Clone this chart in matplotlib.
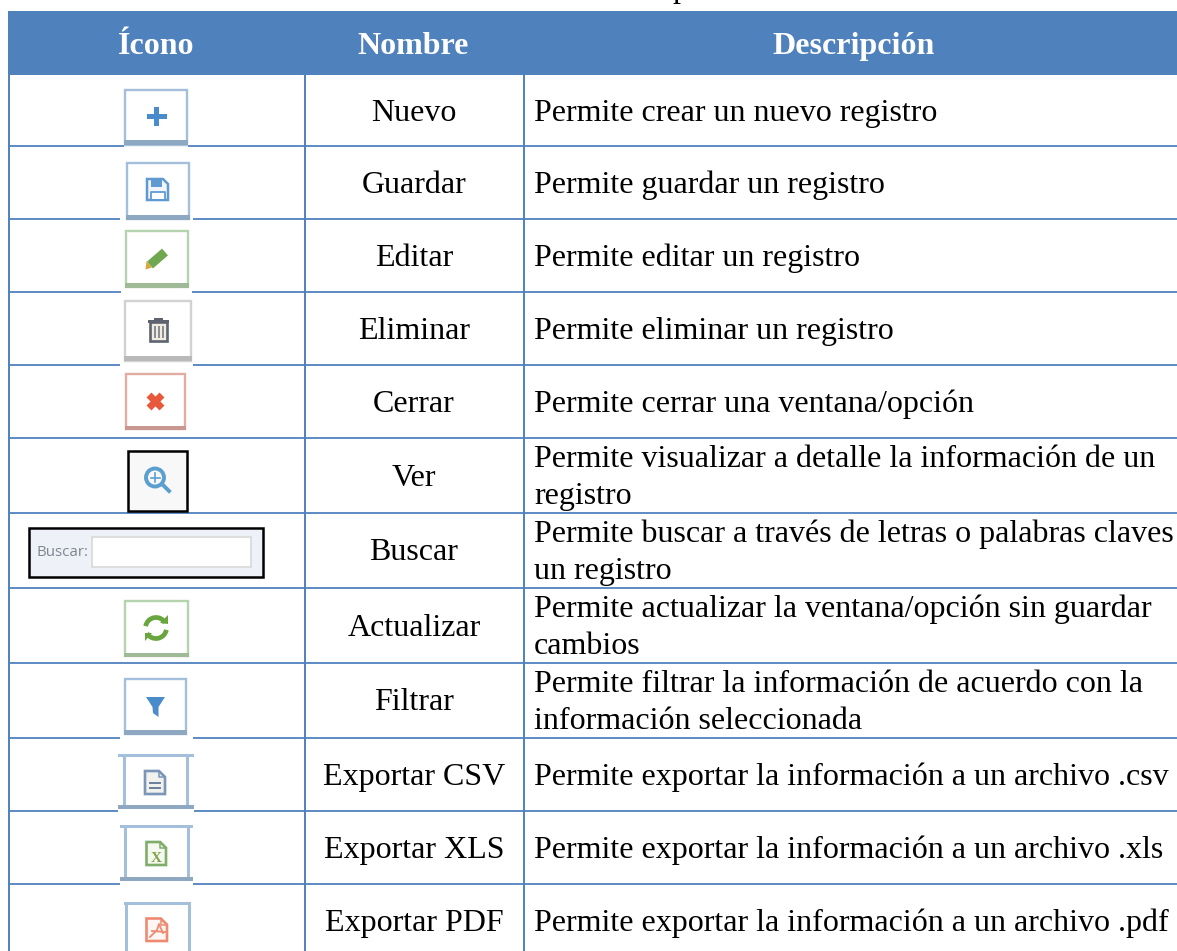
import numpy as np
import matplotlib
matplotlib.use("Agg")
import matplotlib.pyplot as plt
from matplotlib.colors import to_rgb
from matplotlib.patches import Rectangle, Circle, Polygon, Arc

headers = ['Ícono', 'Nombre', 'Descripción']
names = ['Nuevo', 'Guardar', 'Editar', 'Eliminar', 'Cerrar', 'Ver', 'Buscar',
         'Actualizar', 'Filtrar', 'Exportar CSV', 'Exportar XLS', 'Exportar PDF']
descriptions = [
    ['Permite crear un nuevo registro'],
    ['Permite guardar un registro'],
    ['Permite editar un registro'],
    ['Permite eliminar un registro'],
    ['Permite cerrar una ventana/opción'],
    ['Permite visualizar a detalle la información de un', 'registro'],
    ['Permite buscar a través de letras o palabras claves', 'un registro'],
    ['Permite actualizar la ventana/opción sin guardar', 'cambios'],
    ['Permite filtrar la información de acuerdo con la', 'información seleccionada'],
    ['Permite exportar la información a un archivo .csv'],
    ['Permite exportar la información a un archivo .xls'],
    ['Permite exportar la información a un archivo .pdf'],
]
row_lines = [75, 145.5, 219, 292, 365, 438, 512.5, 587.5, 662.5, 737.5, 810.5, 884, 951]

BLUE = '#4f81bd'
SERIF = 'Liberation Serif'
W, H = 1177, 951

fig = plt.figure(figsize=(W / 100, H / 100), dpi=100)
ax = fig.add_axes([0, 0, 1, 1])
ax.set_xlim(0, W)
ax.set_ylim(H, 0)
ax.axis('off')


def rect(x0, y0, x1, y1, color, z=3):
    ax.add_patch(Rectangle((x0, y0), x1 - x0, y1 - y0, fc=color, ec='none', zorder=z))


def darker(color, k=0.88):
    return tuple(c * k for c in to_rgb(color))


# grid and header
ax.text(672, -3, 'p', family=SERIF, fontsize=23, ha='left', va='baseline', clip_on=False)
rect(8, 11, W, 75, BLUE)
for y in row_lines[1:-1]:
    ax.plot([8, W], [y, y], color=BLUE, lw=1.3, zorder=2, solid_capstyle='butt')
for x in [9, 305, 524]:
    ax.plot([x, x], [75, H], color=BLUE, lw=1.4, zorder=2, solid_capstyle='butt')

for text, x in zip(headers, [156.5, 413.5, 853.5]):
    ax.text(x, 54.3, text, family=SERIF, fontweight='bold', fontsize=23, color='white',
            ha='center', va='baseline', zorder=5)

# text rows
for i in range(len(names)):
    mid = (row_lines[i] + row_lines[i + 1]) / 2
    if i == 11:
        mid = 920
    base = mid + 10.5
    ax.text(414, base, names[i], family=SERIF, fontsize=23, ha='center', va='baseline', zorder=5)
    lines = descriptions[i]
    first = base - (len(lines) - 1) * 18.5
    for k, line in enumerate(lines):
        ax.text(534, first + k * 37, line, family=SERIF, fontsize=23, ha='left', va='baseline', zorder=5)


def button(x0, y0, x1, y1, color, gap=None, bar=4.5):
    # framed button with a heavier lower edge, white gap over the grid line below
    if gap:
        rect(gap[0], y1 - 2, gap[1], gap[2], 'white', 3)
    ax.add_patch(Rectangle((x0, y0), x1 - x0, y1 - y0, fc='white', ec=color, lw=1.7, zorder=4))
    rect(x0 - 1, y1 - bar, x1 + 1, y1 + 0.5, darker(color), 4)


def page(x0, y0, x1, y1, color, fill='white'):
    fold = (x1 - x0) * 0.3
    pts = [(x0, y0), (x1 - fold, y0), (x1, y0 + fold), (x1, y1), (x0, y1)]
    ax.add_patch(Polygon(pts, closed=True, fc=fill, ec=color, lw=1.9, zorder=5))
    ax.plot([x1 - fold, x1 - fold, x1], [y0, y0 + fold, y0 + fold], color=color, lw=1.1, zorder=5)


def framed(x0, x1, y0, y1, bar_x0, bar_x1, color, bottom=True):
    # export buttons have bars that stick out past the side edges
    if bottom:
        rect(bar_x0, y1, bar_x1, y1 + 6, 'white', 3)
    rect(bar_x0, y0 - 1.5, bar_x1, y0 + 1.5, color, 4)
    ax.plot([x0, x0], [y0, y1], color=color, lw=2.2, zorder=4)
    ax.plot([x1, x1], [y0, y1], color=color, lw=2.2, zorder=4)
    if bottom:
        rect(bar_x0, y1 - 2, bar_x1, y1 + 2, darker(color), 4)


ICON_BLUE = '#4a8bc9'
EDGE_BLUE = '#a3bfdb'
EDGE_GREEN = '#b5d3ac'
EDGE_GRAY = '#d2d2d2'
EDGE_RED = '#e3aca3'

# nuevo
button(124.5, 90, 187, 144.5, EDGE_BLUE, (124, 188, 147))
rect(146.5, 114, 167, 119, ICON_BLUE, 5)
rect(154.3, 107, 159.3, 126, ICON_BLUE, 5)

# guardar
button(126.5, 162.5, 189, 219, EDGE_BLUE, (120, 193, 220.5))
ax.add_patch(Polygon([(147, 179), (163, 179), (168, 184), (168, 200), (147, 200)], closed=True,
                     fc='#f2f5fb', ec='#5f9bd1', lw=1.8, zorder=5))
rect(151, 179, 162, 187, '#5f9bd1', 5)
rect(150.5, 192, 165, 199, 'white', 6)
ax.plot([150.5, 150.5, 165, 165], [200, 192, 192, 200], color='#5f9bd1', lw=1.3, zorder=6)

# editar
button(125.5, 230.5, 188, 287, EDGE_GREEN, (121, 192, 293.5))
rect(121, 290, 192, 293.5, 'white', 3)
ax.plot([150, 165], [265, 252], color='#6fa84f', lw=6.5, zorder=5, solid_capstyle='butt')
ax.add_patch(Polygon([(145.5, 269.5), (146.5, 261), (152, 267.5)], closed=True, fc='#d9a53f', ec='none', zorder=6))

# eliminar
button(125, 301, 191, 360.5, EDGE_GRAY, (120, 193, 366.5))
rect(120, 363, 193, 366.5, 'white', 3)
ax.add_patch(Rectangle((150, 322), 17, 19, fc='#f0ece0', ec='#5d6470', lw=1.9, zorder=5))
rect(148, 320, 169, 322.5, '#5d6470', 6)
rect(154, 317.5, 163, 320.5, '#5d6470', 6)
for x in [154.5, 158.5, 162.5]:
    rect(x - 1, 326, x + 1, 338, '#8a8f96', 6)

# cerrar
button(126, 373.5, 185, 429, EDGE_RED, bar=3.5)
ax.plot([149, 162], [395, 408], color='#e8583a', lw=5, zorder=5, solid_capstyle='butt')
ax.plot([149, 162], [408, 395], color='#e8583a', lw=5, zorder=5, solid_capstyle='butt')

# ver
ax.add_patch(Rectangle((127.5, 451), 59.5, 59.5, fc='#f8f8f8', ec='black', lw=1.8, zorder=4))
ax.add_patch(Circle((155, 477.5), 9, fc='none', ec='#5a9fd0', lw=2.8, zorder=5))
ax.plot([162, 169], [484, 491], color='#5a9fd0', lw=2.8, zorder=5)
ax.plot([150.5, 159.5], [477.5, 477.5], color='#5a9fd0', lw=1.2, zorder=5)
ax.plot([155, 155], [473, 482], color='#5a9fd0', lw=1.2, zorder=5)

# buscar
ax.add_patch(Rectangle((28.5, 528), 234.5, 49, fc='#eef1f7', ec='black', lw=1.8, zorder=4))
ax.add_patch(Rectangle((91.5, 537), 159.5, 30, fc='white', ec='#dddddd', lw=1.4, zorder=5))
ax.text(36, 555.5, 'Buscar:', family='Open Sans', fontsize=10.8, color='#7d8590', ha='left', va='baseline', zorder=5)

# actualizar
button(124.5, 600.5, 188, 656, EDGE_GREEN, bar=3.5)
ax.add_patch(Arc((156, 628), 21, 21, theta1=190, theta2=330, ec='#6aa63f', lw=3.4, zorder=5))
ax.add_patch(Arc((156, 628), 21, 21, theta1=10, theta2=150, ec='#6aa63f', lw=3.4, zorder=5))
ax.add_patch(Polygon([(160, 623), (168, 615), (168, 624)], closed=True, fc='#6aa63f', ec='none', zorder=5))
ax.add_patch(Polygon([(152, 633), (145, 633), (145, 641)], closed=True, fc='#6aa63f', ec='none', zorder=5))

# filtrar
button(124.5, 679, 186, 734, EDGE_BLUE, (120, 193, 739))
ax.add_patch(Polygon([(146, 697), (165, 697), (158.5, 707), (158.5, 717), (153, 713), (152.5, 707)], closed=True,
                     fc=ICON_BLUE, ec='none', zorder=5))

# exportar
framed(123.5, 187, 755, 807, 118, 194, EDGE_BLUE)
page(145, 771, 165, 794, '#7b95b8', '#f1f1ee')
ax.plot([150, 160], [783, 783], color='#6a7f99', lw=1.4, zorder=6)
ax.plot([150, 160], [787.5, 787.5], color='#6a7f99', lw=1.4, zorder=6)

framed(125, 188, 826.5, 878.5, 120, 193, EDGE_BLUE)
page(146.5, 842, 166, 865, '#7fae6a', '#f6f9f0')
ax.text(156.5, 862, 'X', family=SERIF, fontweight='bold', fontsize=11, color='#7fa34a', ha='center', va='baseline', zorder=6)

framed(126, 189, 903, 960, 124, 190, EDGE_BLUE, bottom=False)
page(146.5, 918.5, 167, 941, '#ef8a72', '#fdf6f2')
ax.plot([150, 157, 159, 163], [937, 930, 924, 933], color='#ef8a72', lw=1.3, zorder=6)
ax.plot([152, 165], [931, 932], color='#ef8a72', lw=1.3, zorder=6)

fig.savefig('out.png', dpi=100)
